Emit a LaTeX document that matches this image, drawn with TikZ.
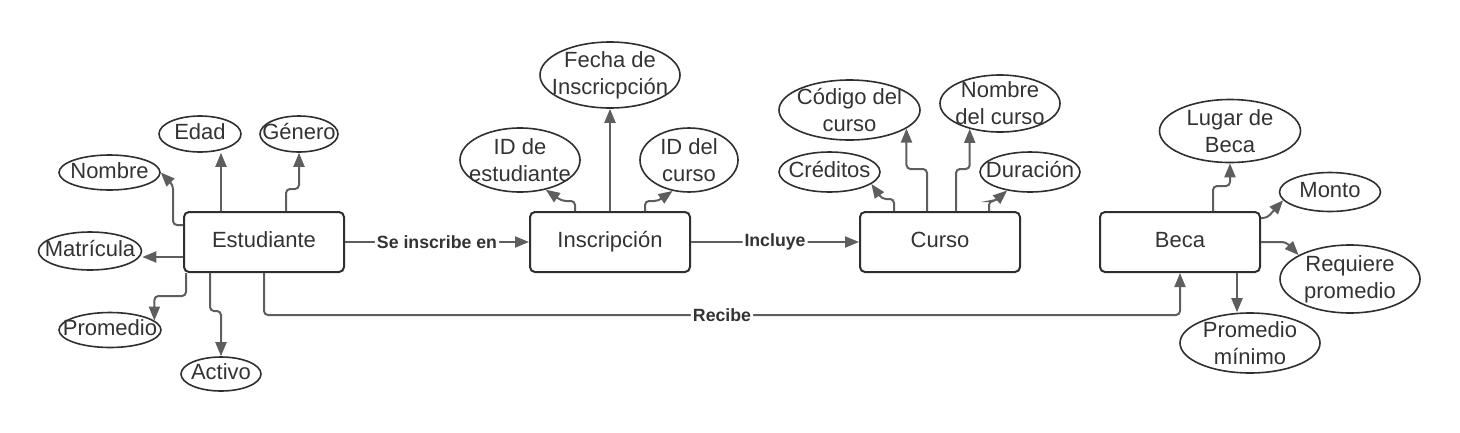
\documentclass[tikz,border=0pt]{standalone}
\usepackage{fontspec}
\setmainfont{Liberation Sans}
\usepackage{tikz}
\usetikzlibrary{shapes.geometric, arrows.meta, positioning}
\definecolor{linegray}{HTML}{5E5E5E}
\definecolor{boxborder}{HTML}{2F2F2F}
\definecolor{txtgray}{HTML}{333333}
\tikzstyle{entity} = [draw=boxborder, line width=2pt, rounded corners=5pt, fill=white,
    minimum width=160pt, minimum height=60pt, text=txtgray,
    text height=16pt, text depth=4.5pt]
\tikzstyle{attrib} = [ellipse, draw=boxborder, line width=1.6pt, fill=white, align=center,
    inner xsep=-40pt, inner ysep=-20pt, text=txtgray]
\tikzstyle{attribone} = [attrib, text height=16pt, text depth=4.5pt]
\tikzstyle{conn} = [draw=linegray, line width=2pt, rounded corners=4pt,
    -{Triangle[length=14pt, width=11pt]}]
\tikzstyle{rel} = [fill=white, inner sep=2pt, text=txtgray,
    font=\fontsize{17.7}{20}\selectfont\bfseries]

\begin{document}
\begin{tikzpicture}[x=1pt, y=-1pt, font=\fontsize{22}{27}\selectfont]
    \useasboundingbox (0,0) rectangle (1460,432);
        \begin{scope}
        % entidades
        \node[entity, name=estud] at (264,242) (estud) {Estudiante};
        \node[entity, name=insc] at (610,242) (insc) {Inscripción};
        \node[entity, name=curso] at (940,242) (curso) {Curso};
        \node[entity, name=beca] at (1180,242) (beca) {Beca};

        % atributos
        \node[attribone, minimum width=82pt, minimum height=36pt] at (200,134) (edad) {Edad};
        \node[attribone, minimum width=78pt, minimum height=36pt] at (299,134) (gen) {Género};
        \node[attribone, minimum width=101pt, minimum height=35pt] at (109.5,172.5) (nom) {Nombre};
        \node[attribone, minimum width=103pt, minimum height=38pt] at (90,251) (mat) {Matrícula};
        \node[attribone, minimum width=102pt, minimum height=35pt] at (110,330) (prom) {Promedio};
        \node[attribone, minimum width=80pt, minimum height=34pt] at (221,374) (act) {Activo};

        \node[attrib, minimum width=140pt, minimum height=66pt] at (610,75) (fecha) {Fecha de\\Inscricpción};
        \node[attrib, minimum width=120pt, minimum height=64pt] at (520,160) (idest) {ID de\\estudiante};
        \node[attrib, minimum width=98pt, minimum height=64pt] at (689,160) (idcur) {ID del\\curso};

        \node[attrib, minimum width=141pt, minimum height=60pt] at (849.5,110) (cod) {Código del\\curso};
        \node[attrib, minimum width=120pt, minimum height=57pt] at (1000,103.5) (ncur) {Nombre\\del curso};
        \node[attribone, minimum width=101pt, minimum height=40pt] at (829.5,172) (cred) {Créditos};
        \node[attribone, minimum width=100pt, minimum height=40pt] at (1030,172) (dur) {Duración};

        \node[attrib, minimum width=141pt, minimum height=63pt] at (1230,131) (lug) {Lugar de\\Beca};
        \node[attribone, minimum width=101pt, minimum height=39pt] at (1330,192) (mon) {Monto};
        \node[attrib, minimum width=140pt, minimum height=68pt] at (1350,279) (req) {Requiere\\promedio};
        \node[attrib, minimum width=140pt, minimum height=60pt] at (1250,343) (pmin) {Promedio\\mínimo};

        % puntos de salida
        \coordinate (edadstart) at ([xshift=-43pt]estud.north);
        \coordinate (matstart) at ([yshift=-15pt]estud.west);
        \coordinate (pminstart) at ([xshift=57pt]beca.south);

        % relaciones
            \draw[conn] (estud) -- node[rel, name=inscribe] {Se inscribe en} (insc);
            \draw[conn] (insc) -- node[rel, name=incluye] {Incluye} (curso);
            \draw[conn] (estud.south) -- ++(0,42) -| node[rel, pos=0.25, name=recibe] {Recibe} (beca.south);

        % Estudiante
            \draw[conn] (edadstart) -- (edadstart |- edad.south);
            \draw[conn] ([xshift=22pt]estud.north) -- ++(0,-22) -| (gen.south);
            \draw[conn] ([yshift=17pt]estud.west) -- ++(-10,0) -- ++(0,-40) -- (nom.east);
            \draw[conn] (matstart) -- (matstart -| mat.east);
            \draw[conn] ([xshift=-78pt]estud.south) -- ++(0,23) -| (prom.12);
            \draw[conn] ([xshift=-54pt]estud.south) -- ++(0,38) -| (act.north);

        % Inscripcion
            \draw[conn] (insc.north) -- (fecha.south);
            \draw[conn] ([xshift=-35pt]insc.north) -- ++(0,-10) -- ++(-13,0) -- (idest.-49);
            \draw[conn] ([xshift=35pt]insc.north) -- ++(0,-10) -- ++(13,0) -- (idcur.-118);

        % Curso
            \draw[conn] ([xshift=-46pt]curso.north) -- ++(0,-12) -- ++(-12,0) -- (cred.-16);
            \draw[conn] ([xshift=-13pt]curso.north) -- ++(0,-42) -| (cod.-18);
            \draw[conn] ([xshift=16pt]curso.north) -- ++(0,-42) -| (ncur.-140);
            \draw[conn] ([xshift=49pt]curso.north) -- ++(0,-10) -- ++(6,0) -- (dur.-141);

        % Beca
            \draw[conn] ([xshift=33pt]beca.north) -- ++(0,-25) -| (lug.south);
            \draw[conn] ([yshift=24pt]beca.east) -- ++(6,0) -- (mon.-170);
            \draw[conn] (beca.east) -- ++(25,0) -- (req.155);
            \draw[conn] (pminstart) -- (pminstart |- pmin.north);
        \end{scope}
    \end{tikzpicture}
\end{document}
